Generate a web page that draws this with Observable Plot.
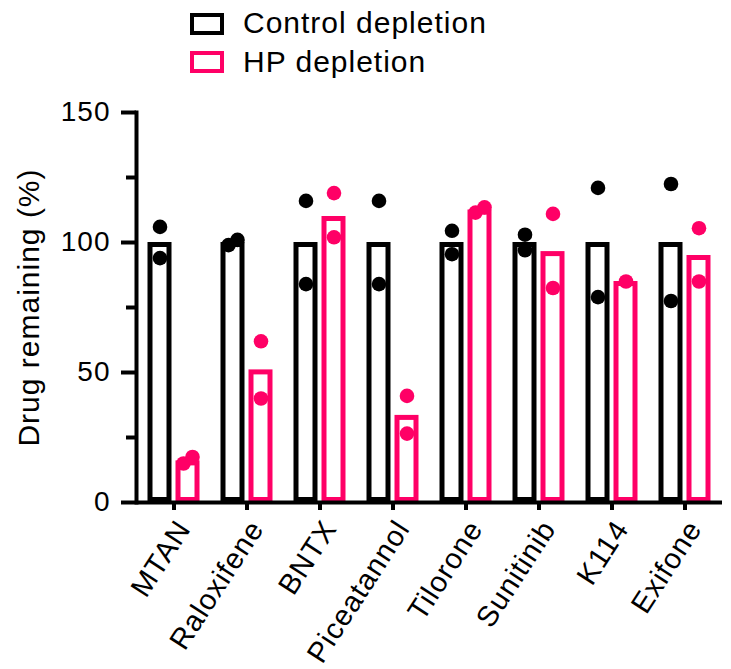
<!DOCTYPE html>
<html><head><meta charset="utf-8">
<script src="https://cdn.jsdelivr.net/npm/d3@7"></script>
<script src="https://cdn.jsdelivr.net/npm/@observablehq/plot@0.6"></script>
<style>
body{margin:0;background:#fff;font-family:"Liberation Sans",Arial,sans-serif;}
#wrap{position:relative;width:731px;height:669px;}
#chart{position:absolute;left:0;top:0;}
.leg{position:absolute;left:190px;width:34px;height:22px;box-sizing:border-box;border:4px solid;background:#fff;}
.legt{position:absolute;left:243px;font-size:30px;line-height:30px;letter-spacing:1px;white-space:nowrap;color:#000;}
svg text{letter-spacing:1px;}
svg text.ylab{letter-spacing:1.6px;}
</style></head><body>
<div id="wrap">
  <div id="chart"></div>
  <div id="legend"></div>
</div>
<script>
const drugs = ["MTAN","Raloxifene","BNTX","Piceatannol","Tilorone","Sunitinib","K114","Exifone"];
const seriesNames = ["Control depletion","HP depletion"];
const seriesColors = ["#000000","#ff0066"];
const controlMean = [100,100,100,100,100,100,100,100];
const hpMean = [16,51,110,33.5,112.5,96.5,85,95];
const controlRep1 = [106,99,116,116,104.5,103,121,122.5];
const controlRep2 = [94,101,84,84,95.5,97,79,77.5];
const hpRep1 = [15,62,119,41,111.5,111,85,105.5];
const hpRep2 = [17.5,40,102,26.5,113.5,82.5,null,85];
const yTicks = [0,50,100,150];
const yMinorTicks = [25,75,125];
const yLabel = "Drug remaining (%)";

const means = [controlMean, hpMean];
const reps = [[controlRep1, controlRep2],[hpRep1, hpRep2]];

const bars = seriesNames.map((s, si) => drugs.map((d, i) => ({drug: d, series: s, value: means[si][i]})));

// points with dodge when replicate values overlap
const points = [];
seriesNames.forEach((s, si) => {
  drugs.forEach((d, i) => {
    const vals = reps[si].map(r => r[i]).filter(v => v != null);
    if (vals.length === 2 && Math.abs(vals[0] - vals[1]) < 4) {
      const lo = Math.min(...vals), hi = Math.max(...vals);
      points.push({drug: d, series: s, si, value: lo, shift: "left"});
      points.push({drug: d, series: s, si, value: hi, shift: "right"});
    } else {
      vals.forEach(v => points.push({drug: d, series: s, si, value: v, shift: "center"}));
    }
  });
});

const shiftPx = {left: -4.5, center: 0, right: 4.5};
const seriesDx = [-14, 14];
const insets = [[13, 41], [41, 13]];

const dotMarks = [];
seriesNames.forEach((s, si) => {
  ["left","center","right"].forEach(sh => {
    dotMarks.push(Plot.dot(points.filter(p => p.si === si && p.shift === sh), {
      x: "drug", y: "value", r: 7.3, fill: seriesColors[si], stroke: "none",
      dx: seriesDx[si] + shiftPx[sh]
    }));
  });
});

const chart = Plot.plot({
  width: 731,
  height: 669,
  marginLeft: 136,
  marginRight: 9,
  marginTop: 112,
  marginBottom: 167,
  style: {fontFamily: "'Liberation Sans', Arial, sans-serif", color: "#000", background: "#fff"},
  x: {domain: drugs, padding: 0},
  y: {domain: [0, 150]},
  marks: [
    ...bars.map((b, si) => Plot.barY(b, {
      x: "drug", y: "value", fill: "#fff", stroke: seriesColors[si], strokeWidth: 5,
      insetLeft: insets[si][0], insetRight: insets[si][1], insetTop: 2.5, insetBottom: 2.5
    })),
    ...dotMarks,
    Plot.ruleY([0], {strokeWidth: 4}),
    Plot.frame({anchor: "left", strokeWidth: 4}),
    Plot.axisY({ticks: yTicks, tickSize: 15, tickPadding: 11, strokeWidth: 4, fontSize: 28, label: null}),
    Plot.axisY({ticks: yMinorTicks, tickSize: 10, strokeWidth: 4, tickFormat: () => "", label: null}),
    Plot.axisX({tickSize: 8, strokeWidth: 4, tickFormat: () => "", label: null}),
    Plot.text(drugs, {x: d => d, frameAnchor: "bottom", textAnchor: "end", lineAnchor: "middle", rotate: -57, dx: 10, dy: 21, fontSize: 29}),
    Plot.text([yLabel], {frameAnchor: "left", textAnchor: "middle", lineAnchor: "middle", rotate: -90, dx: -107.6, fontSize: 30, className: "ylab"})
  ]
});
document.getElementById("chart").appendChild(chart);

const legend = document.getElementById("legend");
const legTops = [13, 51];
const legTextTops = [7.5, 46.5];
seriesNames.forEach((s, si) => {
  const box = document.createElement("div");
  box.className = "leg";
  box.style.top = legTops[si] + "px";
  box.style.borderColor = seriesColors[si];
  legend.appendChild(box);
  const t = document.createElement("div");
  t.className = "legt";
  t.style.top = legTextTops[si] + "px";
  t.textContent = s;
  legend.appendChild(t);
});
</script>
</body></html>
